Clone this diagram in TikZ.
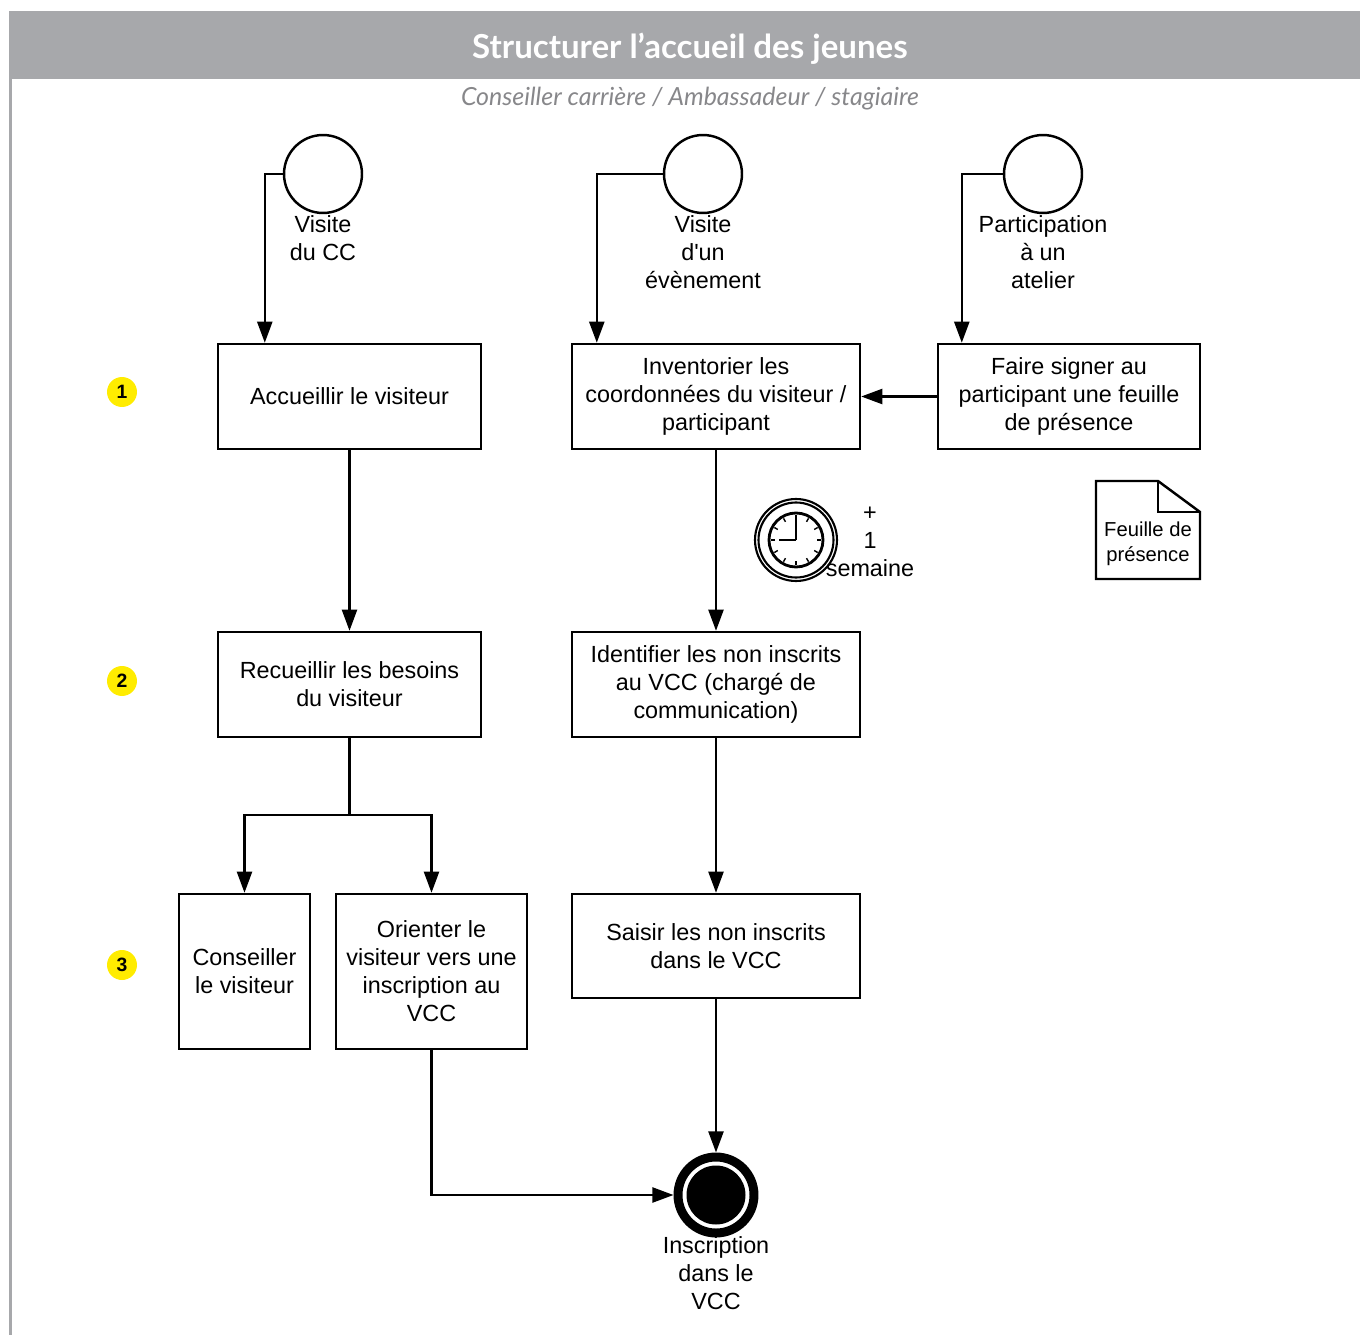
\documentclass[tikz,border=0pt]{standalone}
\usepackage{fontspec}
\setmainfont{Liberation Sans}
\newfontfamily\headfont{Lato}
\usetikzlibrary{arrows.meta, positioning, calc}
\definecolor{bandgray}{RGB}{167,168,171}
\definecolor{subgray}{RGB}{135,135,138}
\definecolor{numyellow}{RGB}{255,236,0}
\tikzset{
  task/.style={draw, line width=1.4pt, align=center, inner sep=0pt, font=\fontsize{13.3}{15.9}\selectfont},
  startev/.style={circle, draw, line width=1.4pt, minimum size=1.56cm, inner sep=0pt},
  evlabel/.style={align=center, inner sep=0pt, font=\fontsize{13.3}{15.9}\selectfont},
  flow/.style={line width=1.4pt, -{Triangle[length=12pt,width=8.5pt]}},
  stepnum/.style={circle, fill=numyellow, minimum size=0.6cm, inner sep=0pt, font=\bfseries\fontsize{11}{11}\selectfont},
}
\begin{document}
\begin{tikzpicture}[x=0.02cm, y=-0.02cm]
\useasboundingbox (0,0) rectangle (1360,1335);
% bandeau
\fill[bandgray] (9,11) rectangle (1360,79);
\draw[bandgray, line width=1.7pt] (10.5,79) -- (10.5,1335);
\node[font=\headfont\bfseries\fontsize{18.8}{22}\selectfont, text=white] (titre) at (690,49) {Structurer l’accueil des jeunes};
\node[font=\headfont\itshape\fontsize{14.2}{17}\selectfont, text=subgray] (role) at (690,99) {Conseiller carrière / Ambassadeur / stagiaire};
% etapes
\node[stepnum] (n1) at (122,392) {1};
\node[stepnum] (n2) at (122,681) {2};
\node[stepnum] (n3) at (122,965) {3};
% evenements de depart
\node[startev] (v1) at (323,174) {};
\node[startev] (v2) at (703,174) {};
\node[startev] (v3) at (1043,174) {};
\node[evlabel] (v1t) at (323,238) {Visite\\du CC};
\node[evlabel] (v2t) at (703,252) {Visite\\d\textquotesingle un\\évènement};
\node[evlabel] (v3t) at (1043,252) {Participation\\à un\\atelier};
% taches
\node[task, minimum width=5.26cm, minimum height=2.1cm] (acc) at (349.5,396.5) {Accueillir le visiteur};
\node[task, minimum width=5.76cm, minimum height=2.1cm] (inv) at (716,396.5) {Inventorier les\\coordonnées du visiteur /\\participant};
\node[task, minimum width=5.24cm, minimum height=2.1cm] (sig) at (1069,396.5) {Faire signer au\\participant une feuille\\de présence};
\node[task, minimum width=5.26cm, minimum height=2.1cm] (rec) at (349.5,684.5) {Recueillir les besoins\\du visiteur};
\node[task, minimum width=5.76cm, minimum height=2.1cm] (idf) at (716,684.5) {Identifier les non inscrits\\au VCC (chargé de\\communication)};
\node[task, minimum width=2.62cm, minimum height=3.1cm] (cons) at (244.5,971.5) {Conseiller\\le visiteur};
\node[task, minimum width=3.82cm, minimum height=3.1cm] (ori) at (431.5,971.5) {Orienter le\\visiteur vers une\\inscription au\\VCC};
\node[task, minimum width=5.76cm, minimum height=2.08cm] (sai) at (716,946) {Saisir les non inscrits\\dans le VCC};
% document
\draw[line width=1.4pt] (1096,481) -- (1158,481) -- (1200,512) -- (1200,579) -- (1096,579) -- cycle;
\draw[line width=1.4pt] (1158,481) -- (1158,512) -- (1200,512);
\node[align=center, font=\fontsize{11.5}{14}\selectfont] (doc) at (1148,544) {Feuille de\\présence};
% minuterie
\coordinate (horloge) at (796,540);
\draw[line width=1.2pt] (horloge) circle (41);
\draw[line width=1.2pt] (horloge) circle (37.5);
\draw[line width=1.6pt] (horloge) circle (27);
\foreach \a in {0,30,...,330}
  \draw[line width=0.8pt] ($(horloge)+(\a:21)$) -- ($(horloge)+(\a:25)$);
\draw[line width=1.6pt] (horloge) -- ++(0,-22);
\draw[line width=1.6pt] (horloge) -- ++(-17,0);
\node[evlabel] (delai) at (870,542) {+\\1\\semaine};
% fin
\node[circle, draw, line width=5.1pt, minimum size=1.52cm, inner sep=0pt] (fin) at (716,1195) {};
\fill (fin.center) circle (29.5);
\node[evlabel] (fint) at (716,1273) {Inscription\\dans le\\VCC};
% flux
\coordinate (fork) at (349.5,815);
\draw[flow] (v1.west) -| ([xshift=0.96cm]acc.north west);
\draw[flow] (v2.west) -| ([xshift=0.52cm]inv.north west);
\draw[flow] (v3.west) -| ([xshift=0.5cm]sig.north west);
\draw[flow] (sig.west) -- (inv.east);
\draw[flow] (acc.south) -- (rec.north);
\draw[flow] (inv.south) -- (idf.north);
\draw[line width=1.4pt] (rec.south) -- (fork);
\draw[flow] (fork) -| (cons.north);
\draw[flow] (fork) -| (ori.north);
\draw[flow] (idf.south) -- (sai.north);
\draw[flow] (sai.south) -- (fin.north);
\draw[flow] (ori.south) |- (fin.west);
\end{tikzpicture}
\end{document}
